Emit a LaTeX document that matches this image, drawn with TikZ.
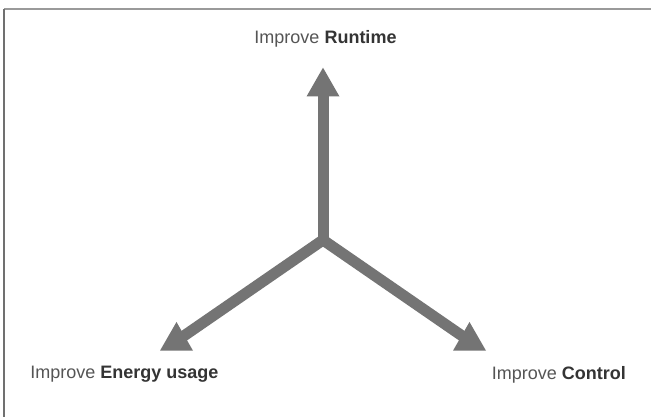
\documentclass[tikz,border=0pt]{standalone}
\usepackage{fontspec}
\setmainfont{Liberation Sans}
\definecolor{arrowgray}{HTML}{747474}
\definecolor{txtgray}{HTML}{555555}
\definecolor{boldgray}{HTML}{343434}
\definecolor{frametop}{HTML}{9A9A9A}
\definecolor{frameleft}{HTML}{707070}
\begin{document}
\begin{tikzpicture}[x=0.75pt,y=-0.75pt,
  shaft/.style={draw=arrowgray,line width=8.25pt,miter limit=10},
  headtri/.style={fill=arrowgray,draw=none},
  lbl/.style={inner sep=0pt,text=txtgray,font=\fontsize{13.5}{15}\selectfont},
]
\useasboundingbox (0,0) rectangle (651,417);
\fill[white] (0,0) rectangle (651,417);
% frame
\draw[frametop,line width=0.9pt] (4,9) -- (651,9);
\draw[frameleft,line width=0.9pt] (4,9) -- (4,417);
% center and head anchors
\coordinate (c) at (323,240);
\coordinate (hu) at (323,88);
\coordinate (hl) at (176.5,341);
\coordinate (hr) at (469.5,341);
\draw[shaft] (hl) -- (c) -- (hr);
\draw[shaft] (c) -- (hu);
\path[headtri] (323,67.7) -- (306.5,96.5) -- (339.5,96.5) -- cycle;
\path[headtri] (176.5,322) -- (160,350.7) -- (193,350.7) -- cycle;
\path[headtri] (469.5,322) -- (453,350.7) -- (486,350.7) -- cycle;
% labels
\node[lbl,anchor=base] (tr) at (325.5,44) {Improve \textcolor{boldgray}{\textbf{Runtime}}};
\node[lbl,anchor=base west] (te) at (30,379) {Improve \textcolor{boldgray}{\textbf{Energy usage}}};
\node[lbl,anchor=base west] (tc) at (491.7,380) {Improve \textcolor{boldgray}{\textbf{Control}}};
\end{tikzpicture}
\end{document}
